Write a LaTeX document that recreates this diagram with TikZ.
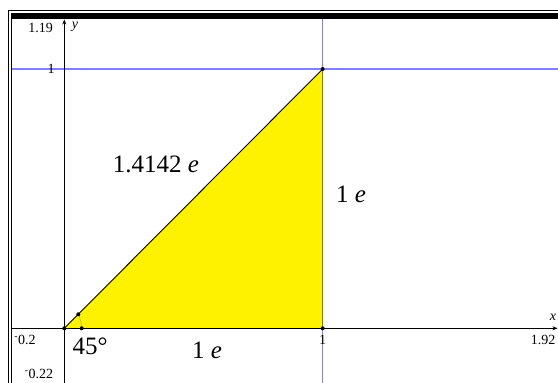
\documentclass[tikz,border=0pt]{standalone}
\usepackage{fontspec}
\setmainfont{Liberation Serif}
\usetikzlibrary{arrows.meta}
\definecolor{gridblue}{RGB}{128,128,255}
\definecolor{edgeolive}{RGB}{128,128,0}
\definecolor{anglecol}{RGB}{190,190,90}
\newcommand{\negsign}{\textsuperscript{-}}
\begin{document}
\begin{tikzpicture}[x=1pt,y=-1pt,
  gridline/.style={draw=gridblue, line width=1.2pt},
  axisline/.style={draw=black, line width=0.8pt, -{Stealth[length=5pt,width=4pt]}},
  dotpt/.style={circle, fill=black, inner sep=0pt, minimum size=4pt},
  ticklabel/.style={font=\fontsize{14}{16}\selectfont, inner sep=0pt},
  biglabel/.style={font=\fontsize{25}{30}\selectfont, inner sep=0pt}]
\useasboundingbox (0,0) rectangle (558,383);
\fill[white] (0,0) rectangle (558,383);
% frame
\draw[line width=1pt] (8,383) -- (8,10) -- (558,10);
\fill[black] (11,12.5) rectangle (558,19);
\draw[line width=1pt] (11.5,19) -- (11.5,383);
% key points
\coordinate (O) at (64.3,328.3);
\coordinate (A) at (322.7,328.3);
\coordinate (B) at (322.7,69);
\coordinate (xs) at (12,328.3);
\coordinate (xe) at (557.5,328.3);
\coordinate (ys) at (64.3,383);
\coordinate (ye) at (64.3,19.5);
\coordinate (hl) at (12,69);
\coordinate (hr) at (558,69);
\coordinate (vt) at (322.7,19);
\coordinate (vb) at (322.7,383);
\coordinate (P) at (78.3,314.3);
\coordinate (Q) at (81.7,328.3);
% blue lines
\draw[gridline] (hl) -- (hr);
\draw[gridline] (vt) -- (vb);
% triangle
\fill[yellow] (O) -- (A) -- (B) -- cycle;
\draw[edgeolive, line width=1pt] (A) -- (B);
\draw[black, line width=0.9pt] (O) -- (B);
% axes
\draw[axisline] (xs) -- (xe);
\draw[axisline] (ys) -- (ye);
% angle marker
\draw[anglecol, line width=0.8pt] (P) to[bend left=10] (Q);
% points
\node[dotpt] (dO) at (O) {};
\node[dotpt] (dA) at (A) {};
\node[dotpt] (dB) at (B) {};
\node[dotpt] (dP) at (P) {};
\node[dotpt] (dQ) at (Q) {};
% tick labels
\node[ticklabel] (l119) at (40.5,28) {1.19};
\node[ticklabel, font=\fontsize{14}{16}\selectfont\itshape] (ly) at (75,27) {y};
\node[ticklabel] (l1y) at (51,69) {1};
\node[ticklabel] (lm02) at (25,340) {\negsign0.2};
\node[ticklabel] (lm022) at (39,374) {\negsign0.22};
\node[ticklabel, font=\fontsize{14}{16}\selectfont\itshape] (lx) at (553,317) {x};
\node[ticklabel] (l192) at (543,340) {1.92};
\node[ticklabel] (l1x) at (322.7,340) {1};
% measurement labels
\node[biglabel] (hyp) at (156,164) {1.4142 \textit{e}};
\node[biglabel] (side) at (351,194) {1 \textit{e}};
\node[biglabel] (base) at (207,350) {1 \textit{e}};
\node[biglabel] (ang) at (90,346) {45°};
\end{tikzpicture}
\end{document}
